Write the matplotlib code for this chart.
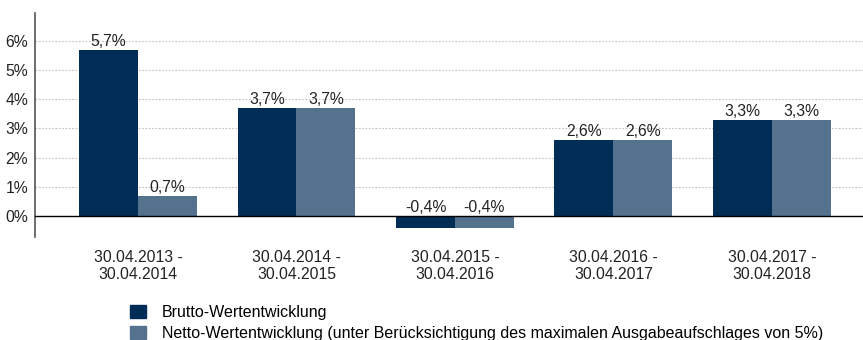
import matplotlib.pyplot as plt
import numpy as np
from matplotlib.patches import Patch

plt.rcParams['font.family'] = ['Liberation Sans', 'DejaVu Sans']

perioden = ["30.04.2013 -\n30.04.2014", "30.04.2014 -\n30.04.2015", "30.04.2015 -\n30.04.2016",
            "30.04.2016 -\n30.04.2017", "30.04.2017 -\n30.04.2018"]
brutto = [5.7, 3.7, -0.4, 2.6, 3.3]
netto = [0.7, 3.7, -0.4, 2.6, 3.3]
serien = ["Brutto-Wertentwicklung",
          "Netto-Wertentwicklung (unter Berücksichtigung des maximalen Ausgabeaufschlages von 5%)"]

c_brutto = "#002d56"
c_netto = "#54728e"
fs = 11.3

fig = plt.figure(figsize=(8.63, 3.40), dpi=100)
ax = fig.add_axes([35 / 863, 1 - 237 / 340, 1 - 35 / 863, 224 / 340])

x = np.arange(len(perioden))
w = 0.372
ax.bar(x - w / 2, brutto, w, color=c_brutto, zorder=2)
ax.bar(x + w / 2, netto, w, color=c_netto, zorder=2)

def fmt(v):
    return f"{v:.1f}".replace(".", ",") + "%"

for xi, b, n in zip(x, brutto, netto):
    ax.text(xi - w / 2, max(b, 0) + 0.02, fmt(b), ha="center", va="bottom", fontsize=fs, color="#222222")
    ax.text(xi + w / 2, max(n, 0) + 0.02, fmt(n), ha="center", va="bottom", fontsize=fs, color="#222222")

ax.set_xlim(-0.65, 4.575)
ax.set_ylim(-0.72, 6.95)
ax.set_yticks(range(0, 7))
ax.set_yticklabels([f"{i}%" for i in range(0, 7)], fontsize=fs)
ax.set_xticks(x)
ax.set_xticklabels(perioden, fontsize=fs)
ax.tick_params(axis="both", length=0, colors="#222222")
ax.tick_params(axis="x", pad=9)
ax.tick_params(axis="y", pad=5)

for i in range(1, 7):
    ax.axhline(i, color="#c0c0c0", lw=0.8, ls=(0, (1.5, 1.5)), zorder=1)
ax.axhline(0, color="black", lw=1.0, zorder=3)

for s in ["top", "right", "bottom"]:
    ax.spines[s].set_visible(False)
ax.spines["left"].set_color("#555555")
ax.spines["left"].set_linewidth(1.2)

handles = [Patch(color=c_brutto), Patch(color=c_netto)]
fig.legend(handles, serien, loc="upper left", bbox_to_anchor=(124 / 863, 1 - 299 / 340),
           frameon=False, fontsize=11.5, handlelength=0.95, handleheight=0.85,
           handletextpad=1.0, labelspacing=0.35, borderaxespad=0)

fig.savefig("out.png", dpi=100)
